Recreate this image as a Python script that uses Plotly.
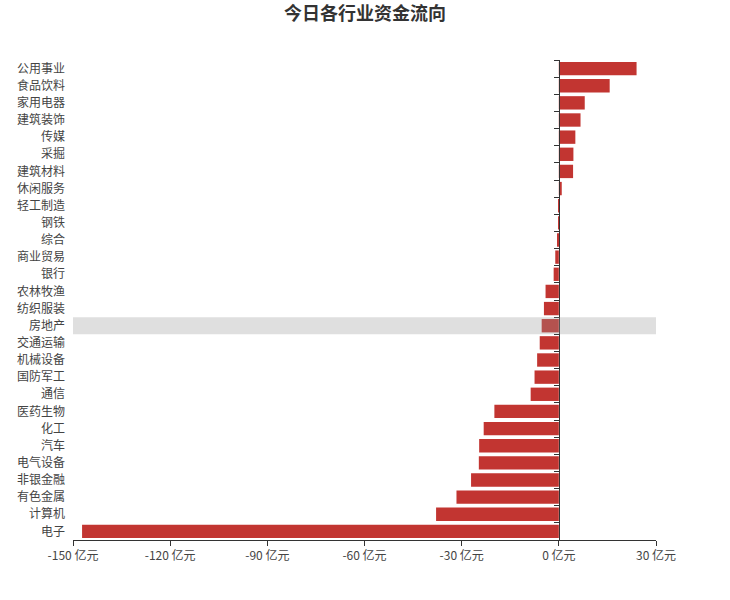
import plotly.graph_objects as go

categories = ["公用事业", "食品饮料", "家用电器", "建筑装饰", "传媒", "采掘", "建筑材料", "休闲服务",
              "轻工制造", "钢铁", "综合", "商业贸易", "银行", "农林牧渔", "纺织服装", "房地产",
              "交通运输", "机械设备", "国防军工", "通信", "医药生物", "化工", "汽车", "电气设备",
              "非银金融", "有色金属", "计算机", "电子"]
values = [24.0, 15.7, 8.0, 6.7, 5.1, 4.5, 4.4, 0.9,
          0.05, -0.2, -0.4, -1.1, -1.6, -4.1, -4.6, -5.3,
          -5.9, -6.7, -7.5, -8.7, -19.9, -23.2, -24.6, -24.7,
          -27.1, -31.6, -37.9, -147.2]
x_tickvals = [-150, -120, -90, -60, -30, 0, 30]
x_ticktext = [f"{v} 亿元" for v in x_tickvals]
highlight = "房地产"

FONT = "Noto Sans CJK SC, Noto Sans, sans-serif"
n = len(categories)
yrange = [n - 0.5, -0.5]

fig = go.Figure()
fig.add_trace(go.Bar(
    x=values, y=categories, orientation="h",
    marker=dict(color="#c23531", line=dict(width=0)),
    hoverinfo="skip", showlegend=False,
))
# invisible trace to carry the zero-positioned tick axis
fig.add_trace(go.Scatter(
    x=[0] * n, y=categories, yaxis="y2", mode="markers",
    marker=dict(opacity=0), hoverinfo="skip", showlegend=False,
))

hi = categories.index(highlight)
fig.add_shape(type="rect", xref="paper", yref="y", x0=0, x1=1,
              y0=hi - 0.5, y1=hi + 0.5, fillcolor="rgba(150,150,150,0.3)",
              line=dict(width=0), layer="above")

xmin, xmax = -150, 30
fig.update_layout(
    width=730, height=600,
    margin=dict(l=73, r=74, t=60, b=60),
    paper_bgcolor="white", plot_bgcolor="white",
    bargap=0.22,
    font=dict(family=FONT, size=12, color="#444"),
    title=dict(text="<b>今日各行业资金流向</b>", x=0.5, xanchor="center",
               y=1 - 14 / 600, yanchor="middle", yref="container",
               font=dict(family=FONT, size=18, color="#333")),
    xaxis=dict(range=[xmin, xmax], tickvals=x_tickvals, ticktext=x_ticktext,
               showgrid=False, zeroline=False, showline=True, linecolor="#333",
               linewidth=1, ticks="outside", ticklen=5, tickcolor="#333",
               tickfont=dict(size=12, color="#444")),
    yaxis=dict(type="category", categoryorder="array", categoryarray=categories,
               range=yrange, showgrid=False, zeroline=False, showline=False,
               ticks="", ticklabelstandoff=7, tickfont=dict(size=12, color="#444")),
    yaxis2=dict(type="category", categoryorder="array", categoryarray=categories,
                range=yrange, overlaying="y", anchor="free",
                position=(0 - xmin) / (xmax - xmin), side="left",
                showgrid=False, zeroline=False, showline=True, linecolor="#333",
                linewidth=1, ticks="outside", ticklen=5, tickcolor="#333",
                tickson="boundaries", showticklabels=False),
)

fig.write_html("out.html")
